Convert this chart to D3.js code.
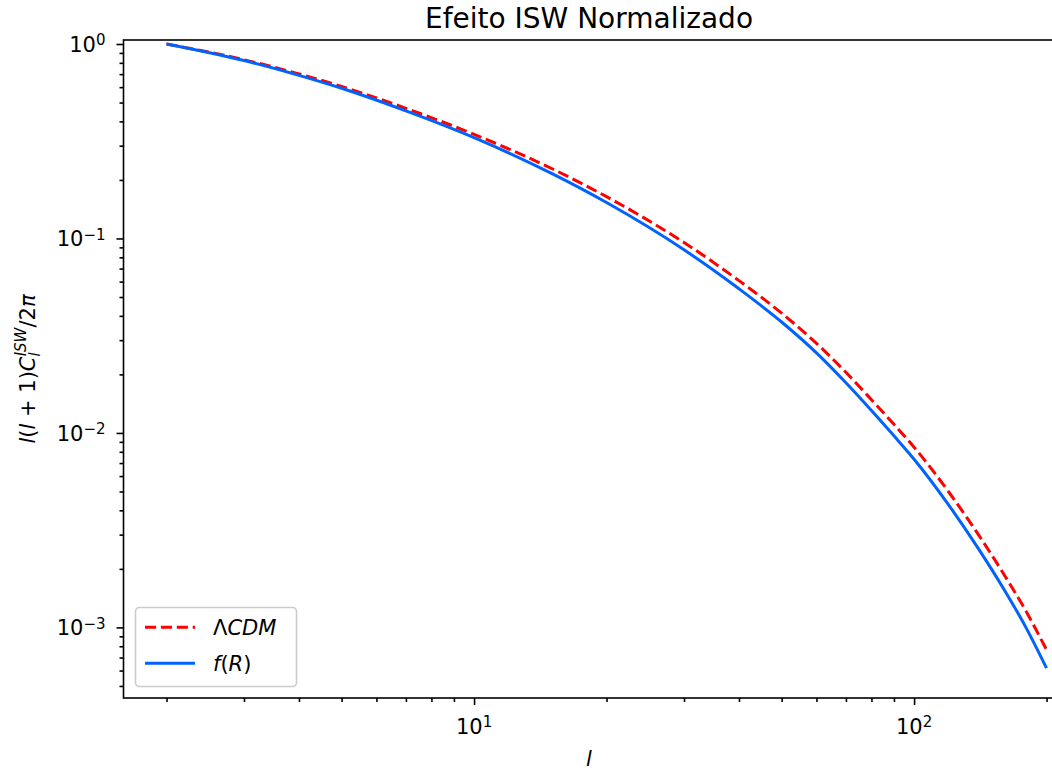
<html><head><title>Efeito ISW Normalizado</title>
<meta charset="UTF-8">
<script src="https://cdn.jsdelivr.net/npm/d3@7"></script>
<style>
  body { margin: 0; background: #fff; }
  svg { display: block; font-family: "DejaVu Sans", sans-serif; }
</style>
</head>
<body>
<div id="chart"></div>
<script>
  // multipoles and normalised l(l+1)C_l/2pi
  const ells    = [2, 3, 4, 5, 7, 10, 15, 20, 30, 40, 50, 60, 70, 80, 90, 100, 120, 140, 160, 180, 200];
  const lcdmVal = [1.0, 0.830, 0.702, 0.605, 0.467, 0.343, 0.229, 0.164, 0.0953, 0.0607, 0.0413, 0.0289, 0.0205, 0.01483, 0.01107, 0.00845, 0.004955, 0.00300, 0.001875, 0.001202, 0.000767];
  const frVal   = [1.0, 0.822, 0.690, 0.592, 0.453, 0.330, 0.216, 0.153, 0.0875, 0.0551, 0.0372, 0.0258, 0.0181, 0.01303, 0.00966, 0.00733, 0.004246, 0.00254, 0.00157, 0.000989, 0.000617];
  const xMajor = [10, 100];
  const yMajor = [1, 0.1, 0.01, 0.001];
  const xMinor = [2,3,4,5,6,7,8,9,20,30,40,50,60,70,80,90,200];
  const yMinor = [];
  [0.0001, 0.001, 0.01, 0.1].forEach(d => { for (let k = 2; k <= 9; k++) yMinor.push(d * k); });

  const W = 1052, H = 774;
  const pLeft = 123.5, pRight = 1054.5, pTop = 40, pBottom = 698;

  const svg = d3.select("#chart").append("svg")
    .attr("width", W).attr("height", H);

  const x = d3.scaleLog().domain([1.597, 208.5]).range([pLeft, pRight]);
  const y = d3.scaleLog().domain([Math.pow(10, -3.363), Math.pow(10, 0.0206)]).range([pBottom, pTop]);

  svg.append("clipPath").attr("id", "clip")
    .append("rect").attr("x", pLeft).attr("y", pTop).attr("width", pRight - pLeft).attr("height", pBottom - pTop);

  const line = d3.line().x(d => x(d[0])).y(d => y(d[1])).curve(d3.curveMonotoneX);
  const lcdm = ells.map((l, i) => [l, lcdmVal[i]]);
  const fr = ells.map((l, i) => [l, frVal[i]]);

  const g = svg.append("g").attr("clip-path", "url(#clip)");
  g.append("path").datum(lcdm).attr("d", line)
    .attr("fill", "none").attr("stroke", "#ff0000").attr("stroke-width", 3)
    .attr("stroke-dasharray", "11.1,4.8");
  g.append("path").datum(fr).attr("d", line)
    .attr("fill", "none").attr("stroke", "#0062ff").attr("stroke-width", 3);

  // axes
  const sup = (sel, v) => {
    const e = Math.round(Math.log10(v));
    sel.append("tspan").text("10");
    sel.append("tspan").attr("dy", "-0.45em").attr("font-size", "15px").text(e < 0 ? "\u2212" + (-e) : e);
  };

  const xAxis = svg.append("g").attr("transform", `translate(0,${pBottom})`);
  xAxis.append("g").call(d3.axisBottom(x).tickValues(xMinor).tickSize(4).tickFormat(""));
  xAxis.append("g").call(d3.axisBottom(x).tickValues(xMajor).tickSize(7).tickFormat(""));
  xAxis.selectAll(".tick line").attr("stroke-width", 1.6);
  xAxis.selectAll(".domain").remove();
  xMajor.forEach(v => {
    const t = svg.append("text").attr("x", x(v)).attr("y", pBottom + 36)
      .attr("text-anchor", "middle").attr("font-size", "21px").attr("fill", "#000");
    sup(t, v);
  });

  const yAxis = svg.append("g").attr("transform", `translate(${pLeft},0)`);
  yAxis.append("g").call(d3.axisLeft(y).tickValues(yMinor.filter(v => y(v) >= pTop && y(v) <= pBottom)).tickSize(4).tickFormat(""));
  yAxis.append("g").call(d3.axisLeft(y).tickValues(yMajor).tickSize(7).tickFormat(""));
  yAxis.selectAll(".tick line").attr("stroke-width", 1.6);
  yAxis.selectAll(".domain").remove();
  yMajor.forEach(v => {
    const t = svg.append("text").attr("x", pLeft - 18).attr("y", y(v) + 8)
      .attr("text-anchor", "end").attr("font-size", "21px").attr("fill", "#000");
    sup(t, v);
  });

  // spines
  svg.append("rect").attr("x", pLeft).attr("y", pTop).attr("width", pRight - pLeft).attr("height", pBottom - pTop)
    .attr("fill", "none").attr("stroke", "#000").attr("stroke-width", 1.6);

  // title and labels
  svg.append("text").attr("x", (pLeft + pRight) / 2).attr("y", 28)
    .attr("text-anchor", "middle").attr("font-size", "28px").text("Efeito ISW Normalizado");

  svg.append("text").attr("x", (pLeft + pRight) / 2).attr("y", 766)
    .attr("text-anchor", "middle").attr("font-size", "21px").attr("font-style", "italic").text("l");

  const yl = svg.append("text")
    .attr("transform", `translate(35,${(pTop + pBottom) / 2}) rotate(-90)`)
    .attr("text-anchor", "middle").attr("font-size", "21px");
  yl.append("tspan").attr("font-style", "italic").text("l");
  yl.append("tspan").text("(");
  yl.append("tspan").attr("font-style", "italic").text("l");
  yl.append("tspan").text(" + 1)");
  yl.append("tspan").attr("font-style", "italic").text("C");
  yl.append("tspan").attr("font-style", "italic").attr("font-size", "15px").attr("dy", 5).text("l");
  yl.append("tspan").attr("font-style", "italic").attr("font-size", "15px").attr("dx", -4).attr("dy", -14).text("ISW");
  yl.append("tspan").attr("dy", 9).text("/2");
  yl.append("tspan").attr("font-style", "italic").text("\u03c0");

  // legend
  const lg = svg.append("g");
  lg.append("rect").attr("x", 135.5).attr("y", 607.5).attr("width", 161).attr("height", 79).attr("rx", 4)
    .attr("fill", "#fff").attr("fill-opacity", 0.8).attr("stroke", "#cccccc").attr("stroke-width", 1.6);
  const items = [
    {color: "#ff0000", dash: "11.1,4.8", y: 627.3},
    {color: "#0062ff", dash: null, y: 663.3}
  ];
  items.forEach(it => {
    lg.append("line").attr("x1", 145).attr("x2", 195).attr("y1", it.y).attr("y2", it.y)
      .attr("stroke", it.color).attr("stroke-width", 3).attr("stroke-dasharray", it.dash);
  });
  const t1 = lg.append("text").attr("x", 213).attr("y", 635).attr("font-size", "21px");
  t1.append("tspan").text("\u039b");
  t1.append("tspan").attr("font-style", "italic").text("CDM");
  const t2 = lg.append("text").attr("x", 213).attr("y", 671).attr("font-size", "21px");
  t2.append("tspan").attr("font-style", "italic").text("f");
  t2.append("tspan").text("(");
  t2.append("tspan").attr("font-style", "italic").text("R");
  t2.append("tspan").text(")");
</script>
</body>
</html>
